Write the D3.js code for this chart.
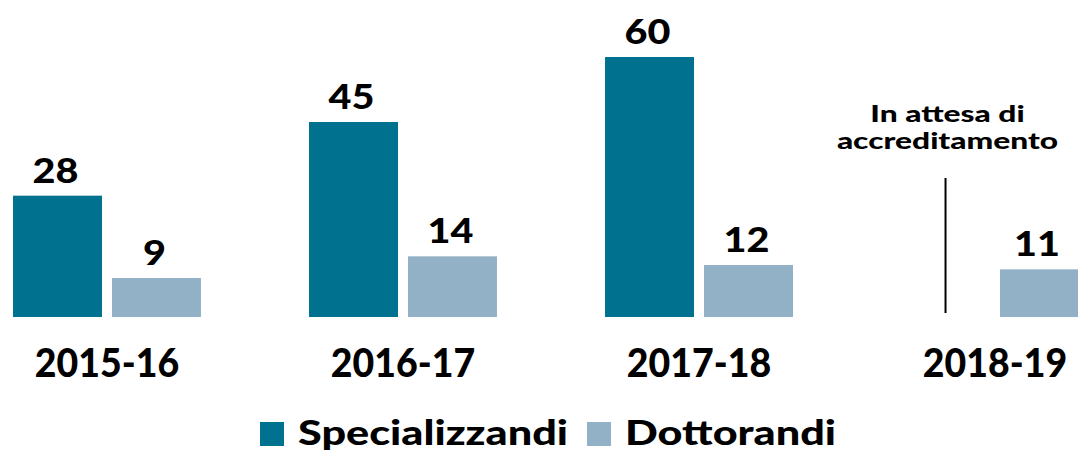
<!DOCTYPE html>
<html>
<head>
<meta charset="utf-8">
<script src="https://cdn.jsdelivr.net/npm/d3@7"></script>
<style>
  body { margin: 0; background: #fff; }
  svg text { font-family: Lato, Roboto, "DejaVu Sans", sans-serif; font-weight: 900; fill: #000; }
</style>
</head>
<body>
<svg id="chart" width="1078" height="450"></svg>
<script>
// data
const years = ["2015-16", "2016-17", "2017-18", "2018-19"];
const series = ["Specializzandi", "Dottorandi"];
const specializzandi = [28, 45, 60, null];
const dottorandi = [9, 14, 12, 11];
const colors = ["#00728f", "#93b1c6"];
const note = ["In attesa di", "accreditamento"];

const W = 1078;
const svg = d3.select("#chart");

// widen the glyphs a bit, the original font is wider than Lato
function stretch(sel, f) {
    sel.each(function () {
        let len = this.getComputedTextLength();
        d3.select(this).attr("textLength", len * f).attr("lengthAdjust", "spacingAndGlyphs");
    });
}

let x0 = d3.scaleBand().domain(years).range([13, 1089]).paddingInner(0.365).paddingOuter(0);
let x1 = d3.scaleBand().domain(series).range([0, x0.bandwidth()]).paddingInner(0.101);
let y = d3.scaleLinear().domain([0, 60]).range([317, 57]);

let rows = [];
years.forEach(function (yr, i) {
    rows.push({ year: yr, s: series[0], v: specializzandi[i] });
    rows.push({ year: yr, s: series[1], v: dottorandi[i] });
});
let bars = rows.filter(d => d.v != null);

// bars
svg.append("g").selectAll("rect")
    .data(bars)
    .enter().append("rect")
    .attr("x", d => x0(d.year) + x1(d.s))
    .attr("y", d => y(d.v))
    .attr("width", x1.bandwidth())
    .attr("height", d => y(0) - y(d.v))
    .attr("fill", d => colors[series.indexOf(d.s)]);

// value labels (centred on the visible part of the bar)
let vals = svg.append("g").selectAll("text")
    .data(bars)
    .enter().append("text")
    .attr("x", function (d) {
        let a = x0(d.year) + x1(d.s);
        let b = Math.min(a + x1.bandwidth(), W);
        return (a + b) / 2 - 2;
    })
    .attr("y", d => y(d.v) - 13)
    .attr("text-anchor", "middle")
    .style("font-size", "35px")
    .text(d => d.v);
stretch(vals, 1.13);

// year labels
let yl = svg.append("g").selectAll("text")
    .data(years)
    .enter().append("text")
    .attr("x", d => x0(d) + x0.bandwidth() / 2)
    .attr("y", 377)
    .attr("text-anchor", "middle")
    .style("font-size", "39px")
    .text(d => d);
stretch(yl, 0.96);

// missing bar marker
let missX = x0(years[3]) + x1(series[0]) + x1.bandwidth() / 2;
svg.append("line")
    .attr("x1", missX).attr("x2", missX)
    .attr("y1", 178).attr("y2", 313)
    .attr("stroke", "#000").attr("stroke-width", 2);

let nt = svg.append("g").selectAll("text")
    .data(note)
    .enter().append("text")
    .attr("x", missX + 2)
    .attr("y", (d, i) => 122 + i * 27)
    .attr("text-anchor", "middle")
    .style("font-size", "22px")
    .text(d => d);
stretch(nt, 1.44);

// legend
let legend = svg.append("g");
let lx = [260, 587];
series.forEach(function (s, i) {
    legend.append("rect")
        .attr("x", lx[i]).attr("y", 422)
        .attr("width", 24).attr("height", 24)
        .attr("fill", colors[i]);
    let t = legend.append("text")
        .attr("x", lx[i] + 38).attr("y", 445)
        .style("font-size", "34px")
        .text(s);
    stretch(t, 1.27);
});
</script>
</body>
</html>
